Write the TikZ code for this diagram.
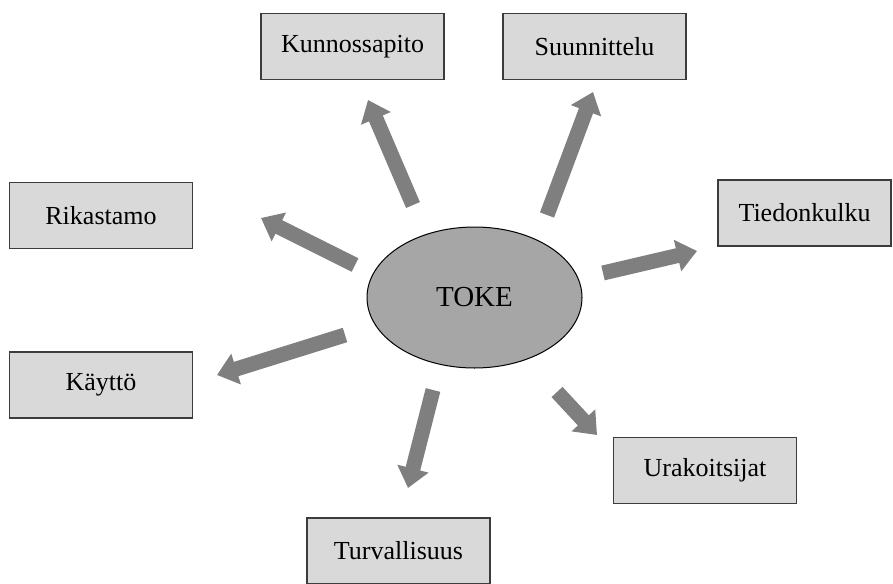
\documentclass[tikz,border=0pt]{standalone}
\usepackage{fontspec}
\setmainfont{Liberation Serif}
\usetikzlibrary{shapes.geometric,arrows.meta}

\definecolor{boxfill}{RGB}{217,217,217}
\definecolor{boxline}{RGB}{60,60,60}
\definecolor{hubfill}{RGB}{166,166,166}
\definecolor{arrowgray}{RGB}{127,127,127}

\tikzset{
  topic/.style={draw=boxline, line width=1.3pt, fill=boxfill, rectangle,
    minimum width=183pt, minimum height=66pt, inner sep=0pt,
    font=\fontsize{26}{30}\selectfont},
  hub/.style={draw=black, line width=1pt, fill=hubfill, ellipse,
    minimum width=215pt, minimum height=141pt, inner sep=0pt,
    font=\fontsize{29}{33}\selectfont},
  blockarrow/.style={draw=arrowgray, line width=15pt, line cap=butt,
    -{Triangle[length=20pt,width=31pt]}}
}

\begin{document}
\begin{tikzpicture}[x=1pt,y=-1pt]
  \useasboundingbox (0,0) rectangle (893,583);
  \clip (0,0) rectangle (893,583);

  % central hub and surrounding topics
  \node[hub] (toke) at (474.5,297.5) {TOKE};
  \node[topic] (kunn) at (352.5,46.5) {Kunnossapito};
  \node[topic] (suun) at (594.5,46.5) {Suunnittelu};
  \node[topic] (rika) at (101,215.5) {Rikastamo};
  \node[topic] (kayt) at (101,385) {Käyttö};
  \node[topic, minimum width=173pt] (tied) at (804.5,213) {Tiedonkulku};
  \node[topic] (urak) at (705,470.5) {Urakoitsijat};
  \node[topic] (turv) at (398.5,551) {Turvallisuus};

  % free-standing block arrows radiating from the hub
  \coordinate (kunnA) at (413,205);  \coordinate (kunnB) at (368,100);
  \coordinate (suunA) at (547,215);  \coordinate (suunB) at (593,92);
  \coordinate (rikaA) at (355,265);  \coordinate (rikaB) at (261,218);
  \coordinate (kaytA) at (345,335);  \coordinate (kaytB) at (217,375);
  \coordinate (tiedA) at (603,273);  \coordinate (tiedB) at (697,251);
  \coordinate (urakA) at (557,392);  \coordinate (urakB) at (597,435);
  \coordinate (turvA) at (433,390);  \coordinate (turvB) at (408,488);

  \draw[blockarrow] (kunnA) -- (kunnB);
  \draw[blockarrow] (suunA) -- (suunB);
  \draw[blockarrow] (rikaA) -- (rikaB);
  \draw[blockarrow] (kaytA) -- (kaytB);
  \draw[blockarrow] (tiedA) -- (tiedB);
  \draw[blockarrow] (urakA) -- (urakB);
  \draw[blockarrow] (turvA) -- (turvB);
\end{tikzpicture}
\end{document}
